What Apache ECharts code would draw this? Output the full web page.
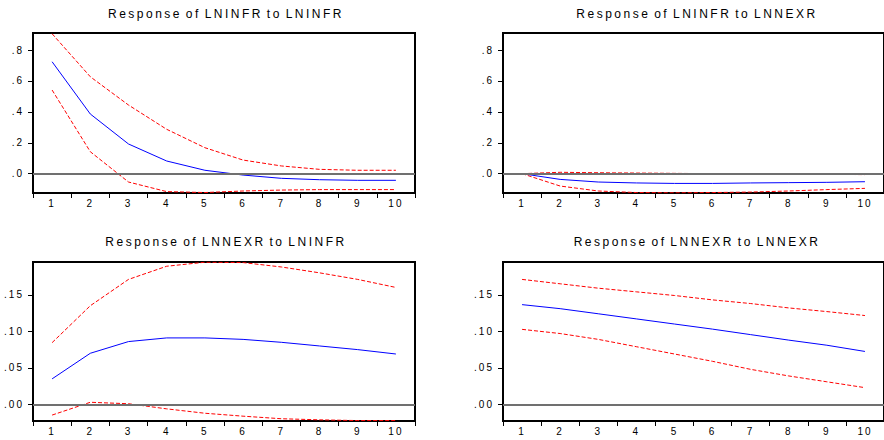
<!DOCTYPE html>
<html>
<head>
<meta charset="utf-8">
<title>Impulse responses</title>
<script src="https://cdn.jsdelivr.net/npm/echarts@6/dist/echarts.min.js"></script>
<style>
  html, body { margin: 0; padding: 0; background: #fff; }
  #chart { width: 884px; height: 440px; }
  /* EViews-style wide text */
  #chart text { letter-spacing: 2px; }
  #chart text[style*="12px"] { letter-spacing: 2.5px; word-spacing: -2px; }
</style>
</head>
<body>
<div id="chart"></div>
<script>
var periods = ['1', '2', '3', '4', '5', '6', '7', '8', '9', '10'];

var titles = [
  'Response of LNINFR to LNINFR',
  'Response of LNINFR to LNNEXR',
  'Response of LNNEXR to LNINFR',
  'Response of LNNEXR to LNNEXR'
];

// LNINFR -> LNINFR
var resp11 = [0.724, 0.386, 0.192, 0.082, 0.022, -0.009, -0.030, -0.039, -0.043, -0.043];
var up11   = [0.905, 0.627, 0.444, 0.287, 0.168, 0.088, 0.050, 0.028, 0.022, 0.022];
var lo11   = [0.541, 0.142, -0.054, -0.116, -0.122, -0.112, -0.106, -0.103, -0.103, -0.103];

// LNINFR -> LNNEXR
var resp12 = [0, -0.037, -0.054, -0.060, -0.063, -0.063, -0.060, -0.058, -0.056, -0.052];
var up12   = [0, 0.009, 0.006, 0.004, 0.002, 0, -0.002, -0.002, -0.004, -0.006];
var lo12   = [0, -0.080, -0.112, -0.122, -0.124, -0.122, -0.119, -0.112, -0.103, -0.095];

// LNNEXR -> LNINFR
var resp21 = [0.035, 0.070, 0.086, 0.091, 0.091, 0.089, 0.085, 0.080, 0.075, 0.069];
var up21   = [0.0845, 0.135, 0.171, 0.189, 0.1945, 0.194, 0.188, 0.180, 0.171, 0.160];
var lo21   = [-0.0145, 0.003, 0.001, -0.006, -0.012, -0.016, -0.0195, -0.021, -0.022, -0.022];

// LNNEXR -> LNNEXR
var resp22 = [0.1365, 0.131, 0.124, 0.117, 0.110, 0.103, 0.0955, 0.088, 0.081, 0.0725];
var up22   = [0.171, 0.165, 0.159, 0.154, 0.149, 0.143, 0.138, 0.132, 0.127, 0.1216];
var lo22   = [0.1027, 0.097, 0.089, 0.079, 0.069, 0.059, 0.048, 0.039, 0.031, 0.023];

var ticksTop = [0, 0.2, 0.4, 0.6, 0.8];
var ticksBottom = [0, 0.05, 0.10, 0.15];

var panels = [
  { resp: resp11, up: up11, lo: lo11, min: -0.125, max: 0.91, ticks: ticksTop, dec: 1 },
  { resp: resp12, up: up12, lo: lo12, min: -0.125, max: 0.91, ticks: ticksTop, dec: 1 },
  { resp: resp21, up: up21, lo: lo21, min: -0.0226, max: 0.1948, ticks: ticksBottom, dec: 2 },
  { resp: resp22, up: up22, lo: lo22, min: -0.0226, max: 0.1948, ticks: ticksBottom, dec: 2 }
];

var grids = [
  { left: 33, top: 33, width: 382, height: 160 },
  { left: 503, top: 33, width: 383, height: 160 },
  { left: 33, top: 262, width: 382, height: 159 },
  { left: 503, top: 262, width: 383, height: 159 }
];
var titlePos = [[221, 3], [692, 3], [221, 231], [692, 231]];
var font = 'Liberation Sans, Arial, sans-serif';

var option = {
  animation: false,
  backgroundColor: '#fff',
  title: [],
  grid: [],
  xAxis: [],
  yAxis: [],
  series: []
};

panels.forEach(function (p, i) {
  option.title.push({
    text: titles[i],
    left: titlePos[i][0],
    top: titlePos[i][1],
    textAlign: 'center',
    textStyle: { fontFamily: font, fontSize: 12, fontWeight: 'normal', color: '#000' }
  });
  option.grid.push(Object.assign({ show: true, borderColor: '#000', borderWidth: 2 }, grids[i]));
  option.xAxis.push({
    type: 'category',
    gridIndex: i,
    data: periods,
    boundaryGap: true,
    axisLine: { show: false, onZero: false },
    axisTick: { show: true, length: 5, lineStyle: { color: '#000' } },
    axisLabel: { margin: 5, fontSize: 10, fontFamily: font, color: '#000' },
    splitLine: { show: false }
  });
  var dec = p.dec;
  option.yAxis.push({
    type: 'value',
    gridIndex: i,
    min: p.min,
    max: p.max,
    axisLine: { show: false },
    axisTick: { show: true, length: 5, customValues: p.ticks, lineStyle: { color: '#000' } },
    axisLabel: {
      customValues: p.ticks,
      margin: 9,
      fontSize: 10,
      fontFamily: font,
      color: '#000',
      formatter: function (v) { return v.toFixed(dec).replace(/^0/, ''); }
    },
    splitLine: { show: false }
  });
  option.series.push({
    type: 'line', xAxisIndex: i, yAxisIndex: i, data: p.up,
    symbol: 'none', silent: true,
    lineStyle: { color: '#ff0000', width: 1, type: [4, 2] },
    markLine: {
      silent: true, symbol: 'none', label: { show: false },
      lineStyle: { color: '#707070', width: 2, type: 'solid' },
      data: [{ yAxis: 0 }]
    }
  });
  option.series.push({
    type: 'line', xAxisIndex: i, yAxisIndex: i, data: p.lo,
    symbol: 'none', silent: true,
    lineStyle: { color: '#ff0000', width: 1, type: [4, 2] }
  });
  option.series.push({
    type: 'line', xAxisIndex: i, yAxisIndex: i, data: p.resp,
    symbol: 'none', silent: true,
    lineStyle: { color: '#0000ff', width: 1, type: 'solid' }
  });
});

var chart = echarts.init(document.getElementById('chart'), null, { renderer: 'svg' });
chart.setOption(option);
</script>
</body>
</html>
